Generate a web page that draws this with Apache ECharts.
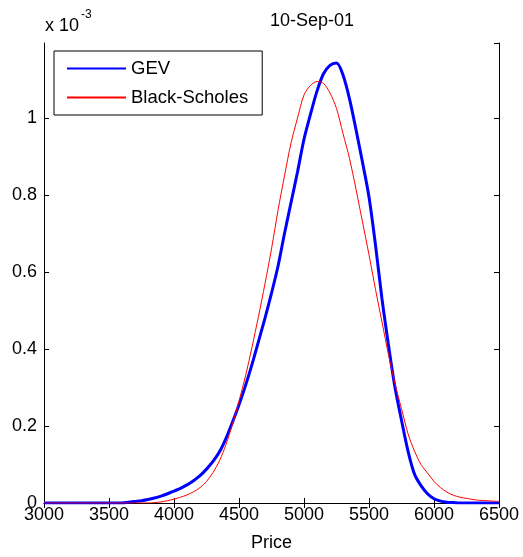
<!DOCTYPE html>
<html>
<head>
<meta charset="utf-8">
<script src="https://cdn.jsdelivr.net/npm/echarts@6/dist/echarts.min.js"></script>
<style>
  html, body { margin: 0; padding: 0; background: #fff; }
  #main { width: 523px; height: 557px; }
</style>
</head>
<body>
<div id="main"></div>
<script>
// prices (x) every 50
var prices = [];
for (var p = 3000; p <= 6500; p += 50) prices.push(p);

// densities in units of 1e-3
var gev = [
  0, 0, 0, 0, 0, 0, 0, 0, 0, 0, 0, 0, 0,          // 3000-3600
  0.002, 0.004, 0.006, 0.009, 0.013, 0.018, 0.024, // 3650-3950
  0.031, 0.038, 0.047, 0.058, 0.071, 0.088, 0.108, 0.133, 0.168, 0.21, // 4000-4450
  0.255, 0.305, 0.36, 0.42, 0.48, 0.545, 0.615, 0.70, 0.78, 0.86,      // 4500-4950
  0.945, 1.01, 1.07, 1.115, 1.137, 1.143, 1.112, 1.05, 0.97, 0.885,    // 5000-5450
  0.795, 0.67, 0.53, 0.41, 0.30, 0.215, 0.135, 0.075, 0.045, 0.024,    // 5500-5950
  0.011, 0.005, 0.002, 0.001, 0, 0, 0, 0, 0, 0, 0                      // 6000-6500
];
var blackScholes = [
  0, 0, 0, 0, 0, 0, 0, 0, 0, 0, 0, 0, 0, 0, 0, 0, 0, // 3000-3800
  0.001, 0.003, 0.006,                               // 3850-3950
  0.010, 0.015, 0.021, 0.029, 0.040, 0.056, 0.079, 0.110, 0.152, 0.205, // 4000-4450
  0.265, 0.33, 0.405, 0.485, 0.57, 0.66, 0.76, 0.85, 0.935, 1.0,       // 4500-4950
  1.06, 1.085, 1.095, 1.09, 1.065, 1.025, 0.96, 0.895, 0.815, 0.73,    // 5000-5450
  0.645, 0.555, 0.47, 0.385, 0.31, 0.245, 0.18, 0.135, 0.10, 0.078,    // 5500-5950
  0.056, 0.040, 0.028, 0.020, 0.015, 0.012, 0.009, 0.007, 0.006, 0.005, 0.004 // 6000-6500
];

function pairs(ys) {
  return prices.map(function (x, i) { return [x, ys[i]]; });
}

var font = 'Liberation Sans, Arial, sans-serif';
var chart = echarts.init(document.getElementById('main'));

var option = {
  animation: false,
  textStyle: { fontFamily: font },
  grid: { left: 44, right: 24, top: 43, bottom: 52 },
  graphic: [
    { type: 'text', left: 270, top: 12, style: { text: '10-Sep-01', font: '18px ' + font, fill: '#000', textAlign: 'center' } },
    { type: 'text', left: 45, top: 17, style: { text: 'x 10', font: '18px ' + font, fill: '#000' } },
    { type: 'text', left: 81, top: 9, style: { text: '-3', font: '12px ' + font, fill: '#000' } }
  ],
  legend: {
    orient: 'vertical',
    left: 54, top: 51,
    padding: [8, 14, 8, 12],
    borderColor: '#000', borderWidth: 1,
    backgroundColor: '#fff',
    itemWidth: 59, itemHeight: 18, itemGap: 10,
    itemStyle: { opacity: 0 },
    textStyle: { fontSize: 18.5, color: '#000', fontFamily: font },
    data: ['GEV', 'Black-Scholes']
  },
  xAxis: [{
    type: 'value', min: 3000, max: 6500, interval: 500,
    name: 'Price', nameLocation: 'middle', nameGap: 31,
    nameTextStyle: { fontSize: 18, color: '#000' },
    axisLine: { lineStyle: { color: '#000' } },
    axisTick: { inside: true, length: 5, lineStyle: { color: '#000' } },
    axisLabel: { fontSize: 18, color: '#000', margin: 3, formatter: function (v) { return String(v); } },
    splitLine: { show: false }
  }, {
    type: 'value', position: 'top', min: 3000, max: 6500, interval: 500,
    axisLine: { show: true, lineStyle: { color: '#000' } },
    axisTick: { show: true, inside: true, length: 5, lineStyle: { color: '#000' } },
    axisLabel: { show: false },
    splitLine: { show: false }
  }],
  yAxis: [{
    type: 'value', min: 0, max: 1.195, interval: 0.2,
    axisLine: { show: true, lineStyle: { color: '#000' } },
    axisTick: { show: true, inside: true, length: 5, lineStyle: { color: '#000' } },
    axisLabel: { fontSize: 18, color: '#000', margin: 7, showMaxLabel: false },
    splitLine: { show: false }
  }, {
    type: 'value', position: 'right', min: 0, max: 1.195, interval: 0.2,
    axisLine: { show: true, lineStyle: { color: '#000' } },
    axisTick: { show: true, inside: true, length: 5, lineStyle: { color: '#000' } },
    axisLabel: { show: false },
    splitLine: { show: false }
  }],
  series: [{
    name: 'GEV', type: 'line', data: pairs(gev),
    symbol: 'none', smooth: 0.3,
    lineStyle: { color: '#0000ff', width: 3 },
    itemStyle: { color: '#0000ff' }
  }, {
    name: 'Black-Scholes', type: 'line', data: pairs(blackScholes),
    symbol: 'none', smooth: 0.3,
    lineStyle: { color: '#ff0000', width: 1 },
    itemStyle: { color: '#ff0000' }
  }]
};

chart.setOption(option);
</script>
</body>
</html>
